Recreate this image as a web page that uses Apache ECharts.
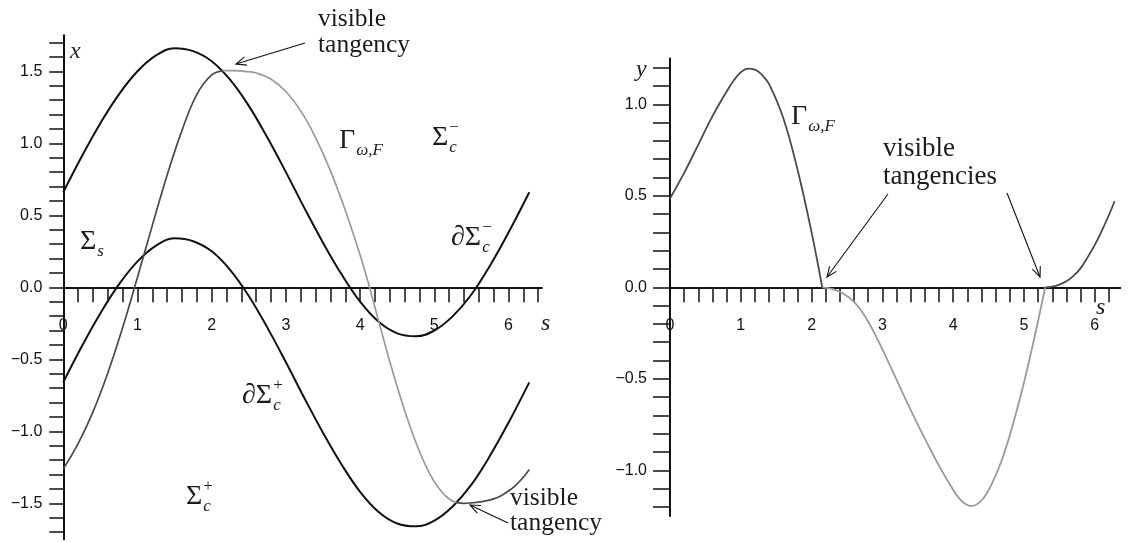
<!DOCTYPE html>
<html>
<head>
<meta charset="utf-8">
<script src="https://cdn.jsdelivr.net/npm/echarts@6/dist/echarts.min.js"></script>
<style>
  html, body { margin: 0; padding: 0; background: #fff; }
  #chart { width: 1133px; height: 542px; }
</style>
</head>
<body>
<div id="chart"></div>
<script>
// Boundary curves of the strip (left panel): sample points along s
const S_BAND  = [0, 0.25, 0.5, 0.75, 1, 1.25, 1.5, 1.75, 2, 2.25, 2.5, 2.75, 3, 3.25, 3.5, 3.75, 4, 4.25, 4.5, 4.75, 5, 5.25, 5.5, 5.75, 6, 6.28];
const X_UPPER = [0.66, 0.91, 1.14, 1.34, 1.50, 1.61, 1.66, 1.64, 1.57, 1.44, 1.26, 1.04, 0.80, 0.55, 0.31, 0.09, -0.10, -0.24, -0.32, -0.34, -0.30, -0.20, -0.05, 0.15, 0.38, 0.66];
const X_LOWER = [-0.66, -0.41, -0.18, 0.02, 0.18, 0.29, 0.34, 0.32, 0.25, 0.12, -0.06, -0.28, -0.52, -0.77, -1.01, -1.23, -1.42, -1.56, -1.64, -1.66, -1.62, -1.52, -1.37, -1.17, -0.94, -0.66];

// Trajectory Γ_{ω,F}: x(s) in the left panel
const S_GAMMA = [0, 0.2, 0.4, 0.6, 0.8, 1.0, 1.2, 1.4, 1.6, 1.8, 2.0, 2.16, 2.3, 2.45, 2.6, 2.8, 3.0, 3.2, 3.4, 3.6, 3.8, 4.0, 4.1, 4.2, 4.3, 4.4, 4.5, 4.6, 4.7, 4.8, 4.9, 5.0, 5.1, 5.2, 5.3, 5.4, 5.5, 5.6, 5.7, 5.8, 5.9, 6.0, 6.1, 6.2, 6.28];
const X_GAMMA = [-1.26, -1.085, -0.865, -0.595, -0.28, 0.07, 0.43, 0.78, 1.09, 1.34, 1.475, 1.505, 1.505, 1.50, 1.488, 1.445, 1.36, 1.225, 1.04, 0.81, 0.535, 0.225, 0.05, -0.14, -0.33, -0.515, -0.69, -0.855, -1.005, -1.14, -1.255, -1.35, -1.42, -1.47, -1.495, -1.50, -1.497, -1.492, -1.482, -1.469, -1.447, -1.415, -1.373, -1.319, -1.265];

// Trajectory Γ_{ω,F}: y(s) in the right panel
const S_DERIV = [0, 0.2, 0.4, 0.6, 0.8, 0.9, 1.0, 1.1, 1.2, 1.3, 1.4, 1.6, 1.8, 2.0, 2.15,
                 2.3, 2.45, 2.6, 2.75, 2.9, 3.05, 3.2, 3.35, 3.5, 3.65, 3.8, 3.95, 4.1, 4.25, 4.4, 4.55, 4.7, 4.85, 5.0, 5.15, 5.3,
                 5.4, 5.5, 5.6, 5.7, 5.8, 5.9, 6.0, 6.1, 6.2, 6.28];
const Y_GAMMA = [0.485, 0.625, 0.78, 0.935, 1.07, 1.13, 1.175, 1.195, 1.19, 1.16, 1.11, 0.925, 0.645, 0.30, 0,
                 -0.01, -0.035, -0.08, -0.155, -0.26, -0.38, -0.505, -0.63, -0.75, -0.865, -0.975, -1.075, -1.16, -1.195, -1.165, -1.07, -0.93, -0.74, -0.52, -0.27, 0,
                 0.004, 0.015, 0.033, 0.062, 0.105, 0.165, 0.232, 0.31, 0.395, 0.47];

// Parameter values of the visible tangencies (colour changes there)
const TANGENCY_LEFT  = [2.16, 5.30];
const TANGENCY_RIGHT = [2.15, 5.30];

// Labelled tick values
const S_LABELS = [0, 1, 2, 3, 4, 5, 6];
const X_LABELS = [-1.5, -1.0, -0.5, 0.0, 0.5, 1.0, 1.5];
const Y_LABELS = [-1.0, -0.5, 0.0, 0.5, 1.0];

const INK = '#111';
const DARK = '#4a4a4a';
const LIGHT = '#9a9a9a';
const SERIF = '"Liberation Serif", "DejaVu Serif", serif';
const SANS = '"Liberation Sans", Arial, sans-serif';

// Panel geometry (pixels per unit and origin of each panel)
const LEFT  = { x0: 63.3, y0: 287.3, kx: 74.2, ky: 144, sLine: 6.45, sTick: 6.4, vLine: 1.75, vTick: 1.7, tickLen: 14, labMargin: 21 };
const RIGHT = { x0: 670,  y0: 287.3, kx: 70.8, ky: 183, sLine: 6.36, sTick: 6.2, vLine: 1.25, vTick: 1.2, tickLen: 17, labMargin: 23 };

function pairs(s, v) { return s.map((si, i) => [si, v[i]]); }

// Split a sampled curve into three pieces at two parameter values
function splitAt(s, v, cuts) {
  const pts = pairs(s, v);
  return [
    pts.filter(p => p[0] <= cuts[0]),
    pts.filter(p => p[0] >= cuts[0] && p[0] <= cuts[1]),
    pts.filter(p => p[0] >= cuts[1])
  ];
}

function labelIn(list, digits) {
  return v => {
    if (!list.some(t => Math.abs(t - v) < 1e-6)) return '';
    const txt = Math.abs(v).toFixed(digits);
    return v < -1e-9 ? '\u2212' + txt : txt;
  };
}

// Each panel: one grid holding the curves and the full-length axis lines,
// one overlaid grid carrying the ticks and tick labels.
function grids(p) {
  return [
    { left: p.x0, top: p.y0 - p.vLine * p.ky, width: p.sLine * p.kx, height: 2 * p.vLine * p.ky, containLabel: false, outerBoundsMode: 'none' },
    { left: p.x0, top: p.y0 - p.vTick * p.ky, width: p.sTick * p.kx, height: 2 * p.vTick * p.ky, containLabel: false, outerBoundsMode: 'none' }
  ];
}

function lineAxes(gi, p, isX) {
  return {
    type: 'value', gridIndex: gi,
    min: isX ? 0 : -p.vLine, max: isX ? p.sLine : p.vLine,
    axisLine: { show: true, onZero: true, lineStyle: { color: INK, width: 2 } },
    axisTick: { show: false }, axisLabel: { show: false }, splitLine: { show: false }
  };
}

function tickXAxis(gi, p) {
  return {
    type: 'value', gridIndex: gi, min: 0, max: p.sTick, interval: 0.2,
    position: 'bottom', offset: -p.vTick * p.ky,
    axisLine: { show: false, onZero: false },
    axisTick: { show: true, length: 15, lineStyle: { color: INK, width: 1.5 } },
    splitLine: { show: false },
    axisLabel: { color: INK, fontFamily: SANS, fontSize: 16, margin: 30, formatter: labelIn(S_LABELS, 0) }
  };
}

function tickYAxis(gi, p, labels) {
  return {
    type: 'value', gridIndex: gi, min: -p.vTick, max: p.vTick, interval: 0.1,
    position: 'left',
    axisLine: { show: false, onZero: false },
    axisTick: { show: true, length: p.tickLen, lineStyle: { color: INK, width: 1.5 } },
    splitLine: { show: false },
    axisLabel: { color: INK, fontFamily: SANS, fontSize: 16, margin: p.labMargin, formatter: labelIn(labels, 1) }
  };
}

function curve(data, ai, color, width) {
  return {
    type: 'line', xAxisIndex: ai, yAxisIndex: ai, data,
    smooth: 0.4, showSymbol: false, symbol: 'none',
    lineStyle: { color, width }, z: 3
  };
}

const gammaL = splitAt(S_GAMMA, X_GAMMA, TANGENCY_LEFT);
const gammaR = splitAt(S_DERIV, Y_GAMMA, TANGENCY_RIGHT);

// ---- annotations -------------------------------------------------------
const measureCtx = document.createElement('canvas').getContext('2d');
function textWidth(str, size, italic) {
  measureCtx.font = (italic ? 'italic ' : '') + size + 'px ' + SERIF;
  return measureCtx.measureText(str).width;
}

function text(x, y, str, size, italic) {
  return {
    type: 'text', x, y, z: 10,
    style: {
      text: str, fontFamily: SERIF, fontSize: size,
      fontStyle: italic ? 'italic' : 'normal',
      fill: '#1c1c1c', align: 'left', verticalAlign: 'middle'
    }
  };
}

// Math symbol with optional subscript and superscript
function symbol(x, y, main, size, sub, sup) {
  const out = [text(x, y, main, size, false)];
  const xs = x + textWidth(main, size, false) + 1;
  const small = Math.round(size * 0.62);
  if (sup) out.push(text(xs, y - size * 0.37, sup, small, false));
  if (sub) out.push(text(xs, y + size * 0.33, sub, small, true));
  return out;
}

function arrow(x1, y1, x2, y2) {
  const a = Math.atan2(y2 - y1, x2 - x1), L = 11, w = 0.4;
  const p1 = [x2 - L * Math.cos(a - w), y2 - L * Math.sin(a - w)];
  const p2 = [x2 - L * Math.cos(a + w), y2 - L * Math.sin(a + w)];
  return [
    { type: 'line', z: 10, shape: { x1, y1, x2, y2 }, style: { stroke: '#111', lineWidth: 1.1 } },
    { type: 'polyline', z: 10, shape: { points: [p1, [x2, y2], p2] }, style: { stroke: '#111', lineWidth: 1.1, fill: null } }
  ];
}

const graphics = [
  // axis names
  text(70, 52, 'x', 24, true),
  text(541, 324, 's', 24, true),
  text(636, 70, 'y', 24, true),
  text(1096, 308, 's', 24, true),

  // left panel
  ...symbol(339, 141, '\u0393', 28, '\u03c9,F'),
  ...symbol(432, 138, '\u03a3', 28, 'c', '\u2212'),
  ...symbol(80, 242, '\u03a3', 28, 's'),
  ...symbol(451, 238, '\u2202\u03a3', 28, 'c', '\u2212'),
  ...symbol(242, 396, '\u2202\u03a3', 28, 'c', '+'),
  ...symbol(186, 497, '\u03a3', 28, 'c', '+'),

  text(318, 19, 'visible', 25.5),
  text(318, 45, 'tangency', 25.5),
  ...arrow(305, 43, 236, 64),

  text(510, 498, 'visible', 25.5),
  text(510, 523, 'tangency', 25.5),
  ...arrow(508, 523, 470, 505),

  // right panel
  ...symbol(791, 117, '\u0393', 28, '\u03c9,F'),
  text(883, 149, 'visible', 27),
  text(883, 177, 'tangencies', 27),
  ...arrow(888, 194, 827, 277),
  ...arrow(1007, 193, 1040, 277)
];

const option = {
  animation: false,
  backgroundColor: '#fff',
  grid: [ ...grids(LEFT), ...grids(RIGHT) ],
  xAxis: [ lineAxes(0, LEFT, true), tickXAxis(1, LEFT), lineAxes(2, RIGHT, true), tickXAxis(3, RIGHT) ],
  yAxis: [ lineAxes(0, LEFT, false), tickYAxis(1, LEFT, X_LABELS), lineAxes(2, RIGHT, false), tickYAxis(3, RIGHT, Y_LABELS) ],
  series: [
    curve(pairs(S_BAND, X_UPPER), 0, INK, 2),
    curve(pairs(S_BAND, X_LOWER), 0, INK, 2),
    curve(gammaL[0], 0, DARK, 1.7),
    curve(gammaL[1], 0, LIGHT, 1.7),
    curve(gammaL[2], 0, DARK, 1.7),
    curve(gammaR[0], 2, DARK, 1.8),
    curve(gammaR[1], 2, LIGHT, 1.8),
    curve(gammaR[2], 2, DARK, 1.8)
  ],
  graphic: graphics
};

const chart = echarts.init(document.getElementById('chart'), null, { renderer: 'canvas' });
chart.setOption(option);
</script>
</body>
</html>
